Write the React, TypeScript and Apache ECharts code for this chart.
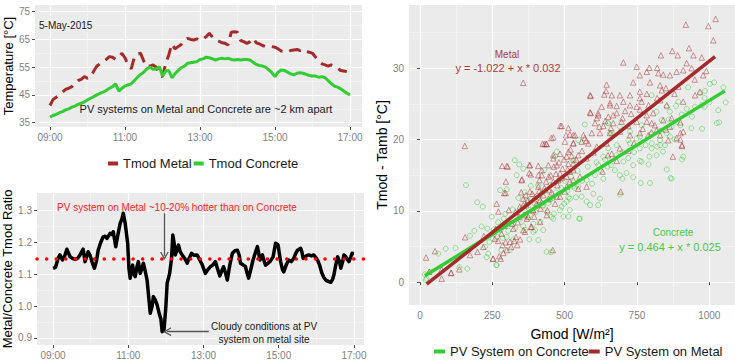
import React, { useEffect, useRef } from "react";
import * as echarts from "echarts";

const FONT = "'Liberation Sans', Arial, Helvetica, sans-serif";
const METAL = "#A52A2A";
const CONCRETE = "#32CD32";

// ---------- Top-left: module temperatures (5-minute readings) ----------
const TEMP_START = "09:00";
const TEMP_STEP_MIN = 5;
const tmodMetal = [
  41.2, 43.4, 44.2, 45.0, 46.0, 47.0, 47.4, 48.0, 49.2, 50.2, 50.6, 51.6,
  51.0, 51.4, 53.6, 55.4, 56.2, 57.0, 57.8, 58.8, 58.6, 57.8, 58.6, 60.0,
  58.4, 55.6, 54.4, 58.6, 59.8, 60.0, 57.2, 55.2, 55.4, 55.8, 55.0, 52.2,
  51.6, 56.2, 59.4, 63.4, 61.6, 62.4, 63.2, 64.6, 65.4, 65.0, 64.8, 65.2,
  64.6, 65.2, 66.0, 67.2, 65.8, 64.8, 64.4, 63.8, 63.6, 63.0, 67.6, 67.8,
  67.6, 64.6, 64.2, 63.6, 64.2, 65.4, 63.8, 63.4, 62.8, 62.4, 62.6, 62.4,
  62.2, 61.6, 60.8, 60.6, 60.4, 61.0, 61.2, 61.4, 61.0, 61.4, 60.6, 60.4,
  60.0, 58.6, 57.4, 56.2, 55.8, 55.4, 55.8, 55.4, 54.8, 53.8, 53.6, 53.4,
];
const tmodConcrete = [
  37.0, 37.6, 38.0, 38.6, 39.0, 39.6, 40.0, 40.6, 41.0, 41.6, 42.0, 42.5,
  43.2, 43.8, 44.4, 45.0, 45.6, 46.0, 46.6, 47.4, 48.0, 49.0, 46.4, 47.4,
  48.2, 48.6, 49.0, 50.2, 51.4, 52.4, 53.2, 54.4, 55.0, 54.2, 54.4, 55.2,
  51.8, 53.6, 53.8, 51.2, 52.6, 53.8, 54.8, 55.4, 56.4, 56.6, 56.8, 57.0,
  57.8, 58.0, 58.6, 58.4, 58.0, 57.6, 58.0, 58.2, 58.0, 58.2, 57.8, 57.6,
  57.8, 57.6, 57.8, 57.8, 57.6, 56.8, 56.0, 55.6, 55.4, 55.0, 54.0, 53.0,
  51.6, 53.2, 54.0, 53.8, 53.2, 52.6, 52.2, 52.8, 53.0, 52.8, 52.4, 52.0,
  51.8, 51.8, 51.4, 51.6, 51.2, 50.2, 49.0, 48.2, 47.8, 47.2, 46.4, 45.6,
  45.0,
];

// ---------- Bottom-left: Metal / Concrete ratio ----------
const ratioTimes = [
  "09:00", "09:04", "09:08", "09:11", "09:15", "09:19", "09:22", "09:27", "09:31", "09:35", "09:39", "09:43",
  "09:48", "09:51", "09:56", "09:59", "10:02", "10:06", "10:09", "10:12", "10:16", "10:20", "10:23", "10:26",
  "10:29", "10:31", "10:34", "10:36", "10:40", "10:43", "10:47", "10:50", "10:52", "10:55", "10:59", "11:01",
  "11:03", "11:05", "11:07", "11:09", "11:11", "11:14", "11:16", "11:19", "11:22", "11:24", "11:27", "11:30",
  "11:33", "11:35", "11:38", "11:40", "11:43", "11:46", "11:50", "11:52", "11:54", "11:57", "12:00", "12:02",
  "12:06", "12:09", "12:11", "12:13", "12:15", "12:18", "12:20", "12:23", "12:26", "12:30", "12:34", "12:37",
  "12:41", "12:45", "12:50", "12:54", "12:58", "13:03", "13:07", "13:11", "13:15", "13:19", "13:22", "13:26",
  "13:29", "13:32", "13:35", "13:38", "13:42", "13:46", "13:50", "13:54", "13:57", "13:59", "14:03", "14:07",
  "14:10", "14:12", "14:16", "14:19", "14:23", "14:26", "14:30", "14:34", "14:37", "14:39", "14:43", "14:46",
  "14:51", "14:55", "14:59", "15:01", "15:03", "15:06", "15:08", "15:12", "15:16", "15:20", "15:24", "15:27",
  "15:30", "15:35", "15:37", "15:39", "15:44", "15:48", "15:52", "15:56", "16:02", "16:05", "16:09", "16:12",
  "16:15", "16:19", "16:23", "16:26", "16:28", "16:31", "16:34", "16:37", "16:39", "16:42", "16:44", "16:47",
  "16:50", "16:52", "16:55", "16:57", "17:00",
];
const ratioValues = [
  1.119, 1.122, 1.150, 1.161, 1.145, 1.160, 1.179, 1.156, 1.150, 1.147, 1.150, 1.161,
  1.179, 1.140, 1.171, 1.160, 1.140, 1.119, 1.140, 1.176, 1.200, 1.218, 1.220, 1.213,
  1.222, 1.229, 1.225, 1.234, 1.187, 1.220, 1.260, 1.275, 1.292, 1.261, 1.198, 1.120,
  1.088, 1.115, 1.129, 1.100, 1.093, 1.125, 1.140, 1.103, 1.120, 1.135, 1.110, 1.082,
  1.020, 0.978, 1.000, 1.030, 1.020, 1.004, 0.972, 0.960, 0.920, 0.925, 1.000, 1.072,
  1.103, 1.150, 1.224, 1.200, 1.161, 1.180, 1.192, 1.170, 1.161, 1.150, 1.135, 1.150,
  1.166, 1.160, 1.161, 1.145, 1.130, 1.103, 1.115, 1.124, 1.130, 1.140, 1.120, 1.095,
  1.110, 1.124, 1.105, 1.082, 1.130, 1.166, 1.174, 1.176, 1.160, 1.135, 1.130, 1.124,
  1.100, 1.088, 1.120, 1.145, 1.170, 1.187, 1.145, 1.161, 1.140, 1.129, 1.135, 1.140,
  1.155, 1.198, 1.192, 1.165, 1.140, 1.115, 1.108, 1.130, 1.145, 1.140, 1.150, 1.165,
  1.176, 1.182, 1.170, 1.150, 1.158, 1.161, 1.158, 1.161, 1.145, 1.130, 1.103, 1.090,
  1.082, 1.078, 1.075, 1.085, 1.098, 1.130, 1.155, 1.140, 1.119, 1.140, 1.161, 1.155,
  1.145, 1.140, 1.155, 1.166, 1.165,
];
const RATIO_REF = 1.15;

// ---------- Right: Tmod - Tamb vs Gmod ----------
const metalPoints: [number, number][] = [
  [21, 3.45], [32, 1.45], [52, 4.35], [75, 0.5], [75, 1.8], [107, 1.3], [108, 1.3], [136, 1.8], [156, 6.3], [173, 3.8],
  [199, 4.25], [219, 4.95], [221, 6.45], [253, 3.3], [259, 6.1], [265, 11], [271, 9.9], [274, 3.65], [279, 3.3], [286, 5.2],
  [291, 12.5], [297, 14.1], [300, 4.5], [303, 16.2], [307, 10.1], [311, 5.65], [315, 4.95], [323, 7.5], [332, 6.35], [336, 5.2],
  [341, 9.15], [346, 6.0], [353, 14.4], [357, 11.7], [363, 7.05], [368, 10.8], [374, 9.15], [378, 16.4], [383, 15.1], [383, 7.75],
  [390, 10.1], [398, 12], [403, 11], [409, 16.3], [409, 13.4], [417, 10.3], [421, 15], [426, 12.2], [436, 14.1], [440, 10.1],
  [447, 12.9], [459, 4.5], [452, 15], [461, 17.8], [463, 16.2], [467, 11], [475, 13.6], [478, 14.3], [484, 12], [493, 15.9],
  [501, 12.7], [507, 14.8], [513, 16.6], [518, 14.1], [524, 17.7], [530, 15.7],
  [155, 19.1], [357, 27.95], [284, 16.3], [300, 16.3], [296, 12.5], [378, 15.3], [413, 14.3], [424, 19.4], [436, 19.4], [454, 20.2],
  [485, 21.9], [505, 20.6], [252, 3.3],
  [588, 26.2], [643, 26.8], [663, 26.2], [691, 26.2], [657, 25.1], [590, 23.7], [616, 23.7], [611, 23], [651, 23.2], [680, 23.7],
  [709, 24], [749, 24.6], [766, 25.3], [726, 26.2], [760, 26.7], [784, 26.4], [605, 22.3], [634, 21.9], [668, 22.3], [697, 22.5],
  [720, 21.9], [749, 22.5], [784, 23.4], [801, 22.3], [818, 21.3], [789, 20.6], [760, 20.9], [726, 20.6], [691, 21.1], [657, 20.9],
  [622, 20.9], [594, 20.9], [565, 20.6], [536, 20.6], [518, 20.7], [490, 21.9], [513, 21.6], [461, 20.3], [438, 19.35], [430, 19.35],
  [501, 19.7], [530, 19.5], [559, 19.7], [582, 19.45], [611, 19], [645, 19.45], [663, 18], [691, 18.75], [513, 18.3], [484, 18],
  [461, 17.35], [507, 17.6], [547, 17.8], [576, 17.35], [444, 16.4], [473, 16.4], [530, 16.65], [380, 16.4], [351, 14.3], [409, 15],
  [421, 15.7], [484, 15.25], [518, 15.5], [553, 14.8], [530, 14.3], [461, 14.1], [507, 13.4], [547, 13.1], [576, 13.4], [380, 12.7],
  [415, 11.5], [444, 11.7], [473, 12], [357, 10.8], [392, 10.1], [438, 9.4], [415, 8.45], [369, 8.9], [386, 7.75], [357, 7.3],
  [1022, 36.9], [997, 35.9], [1014, 33.9], [919, 36.1], [974, 31.5], [979, 29], [945, 31.8], [930, 32.8], [872, 32.4], [891, 31.8],
  [833, 31.8], [922, 30.7], [939, 30], [910, 29.7], [703, 30.8], [749, 30.2], [793, 30.05], [820, 30.05], [887, 29.5], [864, 29],
  [760, 29], [784, 29.5], [824, 29.3], [841, 29.1], [893, 27.4], [795, 28], [830, 27.6], [836, 26.9], [645, 27.7], [737, 28],
  [951, 26.2], [968, 26.7], [590, 26.1], [637, 26.3], [703, 25.3], [760, 25.8], [628, 24.6], [680, 24.7], [726, 24.8], [830, 25.5],
  [853, 24.8], [910, 25.3], [588, 23.8], [616, 23.4], [657, 24.8], [668, 23.4], [806, 23.7], [784, 22.5], [841, 22.7], [864, 21.8],
  [812, 22], [910, 21.1], [887, 20.2], [905, 19.2], [858, 19.9], [830, 20.6], [530, 20.6], [570, 20.2], [530, 19.45],
  [900, 20], [906, 19.1], [874, 17.6], [900, 20.9], [694, 12.7], [631, 15.5], [680, 17], [650, 17.8], [720, 18.4], [740, 19.5],
  [770, 21.5], [800, 21], [850, 21.4], [870, 23], [900, 22.4],
  [262, 7.5], [270, 5.8], [282, 6.8], [288, 4.1], [292, 7.9], [296, 5.6], [305, 8.6], [318, 8.2], [326, 5.8], [330, 9.8],
  [338, 8.4], [345, 10.6], [350, 12.6], [360, 9.4], [366, 12.2], [372, 11.4], [388, 12.4], [395, 9.2], [405, 10.8], [412, 12.8],
  [420, 11.2], [430, 13.2], [445, 14.8], [455, 12.6], [470, 15.2], [480, 16.8], [490, 14.6], [498, 17.2], [510, 15.8], [520, 18.6],
  [540, 17.2], [560, 18.4], [575, 19.8], [600, 18.2], [620, 21.8], [640, 22.6], [660, 21.6], [700, 23], [730, 23.6], [760, 24.2],
  [790, 24.8], [820, 25.8], [850, 27.2], [880, 26.4], [950, 28.4], [990, 29.6],
];
const concretePoints: [number, number][] = [
  [17, 1.1], [23, 0.5], [35, 1.45], [20, 0.3], [63, 4.0], [89, 4.7], [123, 4.8], [136, 2.1], [164, 1.9], [159, 13.6],
  [173, 6.5], [188, 7.2], [198, 11.2], [213, 7.8], [217, 10.6], [225, 4.95], [233, 7.5], [236, 4.0], [230, 3.5], [248, 9.2],
  [251, 6.1], [265, 2.4], [267, 6.35], [277, 12.9], [279, 7.3], [282, 4.5], [290, 8.9], [300, 13], [300, 6.35], [311, 4.5],
  [323, 6.0], [328, 17.1], [334, 15], [343, 16.5], [340, 11.8], [351, 9.6], [357, 7.85], [364, 7.3], [368, 11.5], [371, 9.2],
  [383, 13.5], [392, 8.2], [398, 7.3], [409, 5.9], [415, 8.5], [424, 10.6], [430, 15.7], [438, 4.25], [444, 11.1], [449, 11.5],
  [455, 9.15], [463, 9.6], [467, 17.6], [473, 18.3], [482, 12.4], [490, 10.6], [498, 11], [507, 11.3], [513, 9.2], [518, 11.7],
  [528, 13.4], [530, 17.1], [453, 4.2], [550, 8.9], [378, 6], [264, 2.4],
  [570, 22.1], [651, 22.3], [691, 21.8], [663, 20.9], [720, 19.9], [749, 20.15], [801, 19.45], [830, 19.9], [853, 20.9], [870, 21.8],
  [887, 22.5], [910, 17.6], [847, 19.2], [818, 17.8], [793, 17.6], [766, 16.9], [737, 16.4], [703, 16.9], [680, 17.8], [651, 18.75],
  [634, 17.6], [616, 16.4], [648, 16.2], [674, 15.7], [691, 15], [714, 15.3], [737, 14.7], [795, 13.9], [870, 14.5], [853, 15.8],
  [691, 12.3], [622, 11.7], [599, 12.4], [588, 10.8], [616, 10.8], [576, 11.3], [559, 12], [539, 11.9], [547, 13.4], [576, 14.3],
  [605, 15], [634, 14.5], [513, 11.9], [518, 10.1], [553, 8.9], [484, 10.1], [461, 8.9], [496, 9.2], [530, 17], [357, 15.9],
  [409, 13.6], [426, 10.8], [398, 11], [380, 9.4], [426, 7.3], [392, 7.05],
  [1049, 27.3], [1057, 25.2], [1031, 24.1], [1034, 22.4], [1017, 28], [1002, 27.8], [985, 26.8], [968, 26.5], [984, 25.8], [974, 24.8],
  [984, 24.6], [951, 24.6], [975, 21.5], [927, 27.3], [893, 25.3], [922, 24.3], [885, 24.7], [853, 24.6], [864, 23.9], [905, 23.5],
  [818, 23.9], [801, 26.2], [836, 22.7], [649, 22.3], [657, 20.9], [726, 21.1], [766, 22], [864, 20.4], [830, 19.2], [801, 18.75],
  [760, 18.75], [726, 19.45], [547, 19.9], [906, 17.2], [866, 14.6], [763, 13.9], [1026, 22.3], [938, 21.6], [700, 14.5], [760, 17],
  [790, 16.5], [820, 19], [840, 18.3], [880, 20],
  [240, 5.6], [255, 7.4], [270, 8.4], [285, 6.2], [295, 9.6], [305, 7.2], [315, 8.2], [320, 10.2], [330, 7.6], [345, 8.8],
  [355, 10.4], [362, 12.6], [375, 10.4], [386, 11.6], [400, 9.8], [410, 11.8], [420, 12.4], [432, 12.8], [440, 9.8], [450, 13.6],
  [460, 11.8], [470, 12.6], [478, 14.2], [488, 13.2], [500, 14.2], [510, 12.8], [522, 14.8], [535, 13.2], [545, 15.6], [560, 14.2],
  [580, 16.2], [595, 13.8], [610, 16.8], [625, 15.6], [640, 17.2], [660, 16.4], [680, 19.2], [700, 18.2], [720, 17.4], [740, 18.2],
  [760, 20.4], [780, 19.2], [800, 20.8], [830, 21.2], [860, 22.8], [900, 22], [940, 23.2], [1000, 25.2],
];
const METAL_FIT = { intercept: -1.022, slope: 0.032, from: 23, to: 1020 };
const CONCRETE_FIT = { intercept: 0.464, slope: 0.025, from: 17, to: 1054 };

const HOUR_MAJOR = [9, 11, 13, 15, 17];
const HOUR_MINOR = [10, 12, 14, 16];
const TEMP_MAJOR = [35, 45, 55, 65, 75];
const TEMP_MINOR = [40, 50, 60, 70];
const RATIO_MAJOR = [0.9, 1.0, 1.1, 1.2, 1.3];
const RATIO_MINOR = [0.95, 1.05, 1.15, 1.25];
const G_MAJOR = [0, 250, 500, 750, 1000];
const G_MINOR = [125, 375, 625, 875];
const DT_MAJOR = [0, 10, 20, 30];
const DT_MINOR = [5, 15, 25, 35];

const toHours = (t: string) => {
  const [h, m] = t.split(":").map(Number);
  return h + m / 60;
};
const hourLabel = (v: number) => `${v < 10 ? "0" : ""}${Math.round(v)}:00`;
const plainLabel = (v: number) => String(v);

const ARROW = "path://M0,10 L5,0 L10,10 L8.4,10 L5,3.2 L1.6,10 Z";

function axisPair(
  gridIndex: number,
  min: number,
  max: number,
  major: number[],
  minor: number[],
  fmt: (v: number) => string,
  extra: any = {}
) {
  const majorAxis: any = {
    type: "value",
    gridIndex,
    min,
    max,
    axisLine: { show: false },
    axisTick: { show: true, customValues: major, length: 3, lineStyle: { color: "#4D4D4D", width: 1 } },
    axisLabel: {
      show: true,
      customValues: major,
      formatter: fmt,
      color: "#7F7F7F",
      fontSize: 10,
      fontFamily: FONT,
      margin: 5,
    },
    splitLine: { show: true, lineStyle: { color: "#FFFFFF", width: 1.2 } },
    ...extra,
  };
  const minorAxis: any = {
    type: "value",
    gridIndex,
    min,
    max,
    axisLine: { show: false },
    axisTick: { show: false, customValues: minor },
    axisLabel: { show: false, customValues: minor },
    splitLine: { show: true, lineStyle: { color: "#F7F7F7", width: 0.6 } },
  };
  return [majorAxis, minorAxis];
}

const titleStyle = (size: number) => ({ fontSize: size, color: "#000", fontFamily: FONT });

const note = (text: string, x: number, y: number, size: number, fill: string, align = "center") => ({
  type: "text",
  x,
  y,
  z: 100,
  silent: true,
  style: { text, font: `${size}px ${FONT}`, fill, textAlign: align, textVerticalAlign: "middle" },
});

function buildOption(): any {
  const startH = toHours(TEMP_START);
  const metalData = tmodMetal.map((v, i) => [startH + (i * TEMP_STEP_MIN) / 60, v]);
  const concreteData = tmodConcrete.map((v, i) => [startH + (i * TEMP_STEP_MIN) / 60, v]);
  const ratioData = ratioValues.map((v, i) => [toHours(ratioTimes[i]), v]);
  const fitLine = (f: typeof METAL_FIT) => [
    [f.from, f.intercept + f.slope * f.from],
    [f.to, f.intercept + f.slope * f.to],
  ];

  const gridCommon = { show: true, backgroundColor: "#EBEBEB", borderWidth: 0, outerBoundsMode: "none", containLabel: false };

  const xAxis = [
    ...axisPair(0, 8.6, 17.32, HOUR_MAJOR, HOUR_MINOR, hourLabel),
    ...axisPair(1, 8.573, 17.267, HOUR_MAJOR, HOUR_MINOR, hourLabel),
    ...axisPair(2, -38, 1089, G_MAJOR, G_MINOR, plainLabel, {
      name: "Gmod [W/m²]",
      nameLocation: "middle",
      nameGap: 22,
      nameTextStyle: titleStyle(14),
    }),
  ];
  const yAxis = [
    ...axisPair(0, 33.45, 77.4, TEMP_MAJOR, TEMP_MINOR, plainLabel, {
      name: "Temperature [°C]",
      nameLocation: "middle",
      nameGap: 17,
      nameTextStyle: titleStyle(13),
    }),
    ...axisPair(1, 0.878, 1.3556, RATIO_MAJOR, RATIO_MINOR, (v: number) => v.toFixed(1), {
      name: "Metal/Concrete Tmod Ratio",
      nameLocation: "middle",
      nameGap: 19,
      nameTextStyle: titleStyle(13),
    }),
    ...axisPair(2, -3.2, 38.85, DT_MAJOR, DT_MINOR, plainLabel, {
      name: "Tmod - Tamb [°C]",
      nameLocation: "middle",
      nameGap: 16,
      nameTextStyle: titleStyle(14),
    }),
  ];

  return {
    animation: false,
    backgroundColor: "#FFFFFF",
    textStyle: { fontFamily: FONT },
    grid: [
      { ...gridCommon, left: 35, top: 5, width: 327, height: 122 },
      { ...gridCommon, left: 37, top: 193, width: 327, height: 152 },
      { ...gridCommon, left: 409, top: 5, width: 326, height: 300 },
    ],
    xAxis,
    yAxis,
    legend: [
      {
        data: ["Tmod Metal", "Tmod Concrete"],
        left: 108,
        top: 157,
        padding: 0,
        icon: "rect",
        itemWidth: 10,
        itemHeight: 4,
        itemGap: 2,
        selectedMode: false,
        textStyle: { fontSize: 13, color: "#1A1A1A", fontFamily: FONT },
      },
      {
        data: ["PV System on Concrete", "PV System on Metal"],
        left: 434,
        top: 345,
        padding: 0,
        icon: "rect",
        itemWidth: 11,
        itemHeight: 4,
        itemGap: 0,
        selectedMode: false,
        textStyle: { fontSize: 13, color: "#1A1A1A", fontFamily: FONT },
      },
    ],
    series: [
      {
        name: "Tmod Metal",
        type: "line",
        xAxisIndex: 0,
        yAxisIndex: 0,
        data: metalData,
        symbol: "none",
        color: METAL,
        lineStyle: { color: METAL, width: 3, type: [12, 7] },
      },
      {
        name: "Tmod Concrete",
        type: "line",
        xAxisIndex: 0,
        yAxisIndex: 0,
        data: concreteData,
        symbol: "none",
        color: CONCRETE,
        lineStyle: { color: CONCRETE, width: 3 },
      },
      {
        name: "Metal/Concrete ratio",
        type: "line",
        xAxisIndex: 2,
        yAxisIndex: 2,
        data: ratioData,
        symbol: "none",
        color: "#000",
        lineStyle: { color: "#000", width: 3.5, join: "round" },
        markLine: {
          silent: true,
          animation: false,
          label: { show: false },
          emphasis: { disabled: true },
          symbol: "none",
          lineStyle: { color: "#555555", width: 1.3, type: "solid" },
          data: [
            {
              yAxis: RATIO_REF,
              lineStyle: { color: "#FF0000", width: 3.5, type: [0.1, 9.5], cap: "round" },
            },
            [
              { coord: [11.96, 1.292], symbol: "none" },
              { coord: [11.96, 1.158], symbol: ARROW, symbolSize: [9, 8] },
            ],
            [
              { coord: [13.14, 0.92], symbol: "none" },
              { coord: [12.03, 0.92], symbol: ARROW, symbolSize: [9, 8] },
            ],
          ],
        },
      },
      {
        name: "Concrete points",
        type: "scatter",
        xAxisIndex: 4,
        yAxisIndex: 4,
        data: concretePoints,
        symbol: "circle",
        symbolSize: 5,
        itemStyle: { color: "rgba(0,0,0,0)", borderColor: "rgba(50,205,50,0.6)", borderWidth: 1 },
      },
      {
        name: "Metal points",
        type: "scatter",
        xAxisIndex: 4,
        yAxisIndex: 4,
        data: metalPoints,
        symbol: "triangle",
        symbolSize: 5.5,
        itemStyle: { color: "rgba(0,0,0,0)", borderColor: "rgba(165,42,42,0.6)", borderWidth: 1 },
      },
      {
        name: "PV System on Concrete",
        type: "line",
        xAxisIndex: 4,
        yAxisIndex: 4,
        data: fitLine(CONCRETE_FIT),
        symbol: "none",
        color: CONCRETE,
        lineStyle: { color: CONCRETE, width: 3.5 },
      },
      {
        name: "PV System on Metal",
        type: "line",
        xAxisIndex: 4,
        yAxisIndex: 4,
        data: fitLine(METAL_FIT),
        symbol: "none",
        color: METAL,
        lineStyle: { color: METAL, width: 3.5 },
      },
    ],
    graphic: [
      note("5-May-2015", 39, 25, 10, "#1A1A1A", "left"),
      note("PV systems on Metal and Concrete are ~2 km apart", 206, 109, 11, "#1A1A1A"),
      note("PV system on Metal ~10-20% hotter than on Concrete", 177, 207, 10, "#FF2222"),
      note("Cloudy conditions at PV", 264, 326, 10, "#1A1A1A"),
      note("system on metal site", 264, 339, 10, "#1A1A1A"),
      note("Metal", 507, 54, 10, "#B03A3A"),
      note("y = -1.022 + x * 0.032", 508, 68, 11, "#B03A3A"),
      note("Concrete", 673, 232, 10, "#44CC44"),
      note("y = 0.464 + x * 0.025", 670, 247, 11, "#44CC44"),
    ],
  };
}

export default function App() {
  const ref = useRef<HTMLDivElement>(null);
  useEffect(() => {
    if (!ref.current) return;
    const chart = echarts.init(ref.current, null, { renderer: "svg" });
    chart.setOption(buildOption());
    return () => chart.dispose();
  }, []);
  return (
    <div
      ref={ref}
      style={{ position: "fixed", left: 0, top: 0, width: 735, height: 360, background: "#FFFFFF" }}
    />
  );
}
